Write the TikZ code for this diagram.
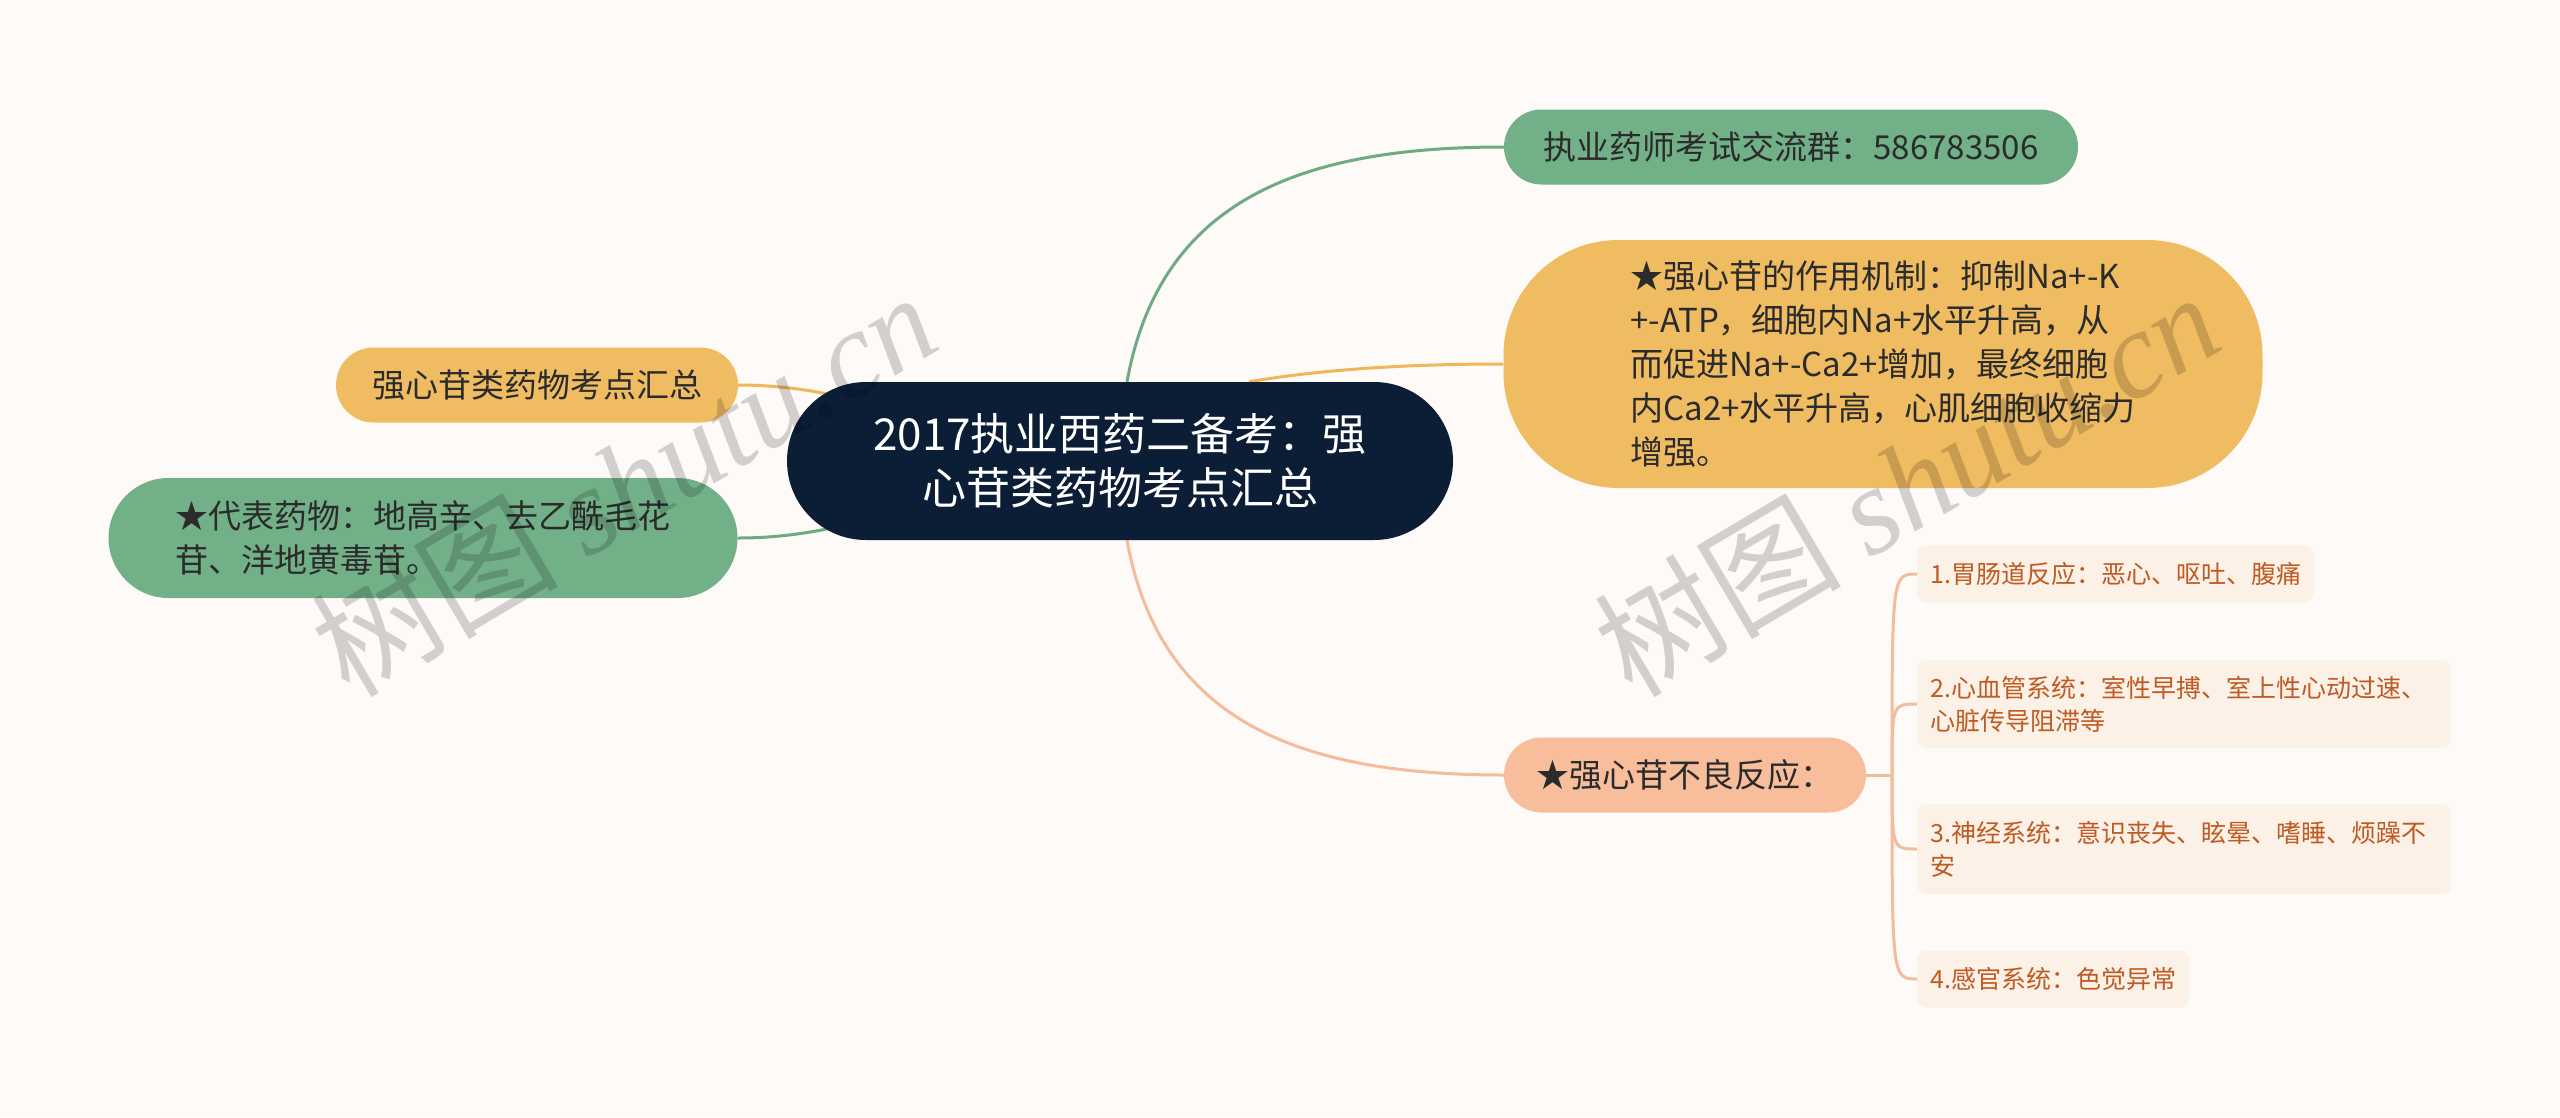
\documentclass[tikz,border=0pt]{standalone}
\usepackage{fontspec}
\setmainfont{Noto Sans CJK SC}
\newfontfamily\wmserif{Liberation Serif}
\usetikzlibrary{calc}
\pgfdeclarelayer{bgfill}
\pgfdeclarelayer{background}
\pgfsetlayers{bgfill,background,main}
\definecolor{bgc}{HTML}{FDFAF8}
\definecolor{rootc}{HTML}{0C1D36}
\definecolor{greenc}{HTML}{72B088}
\definecolor{greenl}{HTML}{6EAA83}
\definecolor{orangec}{HTML}{F0BC62}
\definecolor{orangel}{HTML}{EFB75A}
\definecolor{salmonc}{HTML}{F8BE9C}
\definecolor{salmonl}{HTML}{F3BC9A}
\definecolor{subfill}{HTML}{FCF1E7}
\definecolor{subtext}{HTML}{BF5A22}
\definecolor{darktext}{HTML}{2B2B2B}
\tikzset{
  rootnode/.style={fill=rootc, text=white, font=\fontsize{44}{54}\selectfont, align=center,
    minimum width=666pt, minimum height=158pt, rounded corners=79pt, inner sep=0pt},
  mainnode/.style={text=darktext, font=\fontsize{33}{44}\selectfont, align=left, inner sep=0pt},
  subnode/.style={fill=subfill, text=subtext, font=\fontsize{25}{33}\selectfont, align=left,
    anchor=west, inner xsep=13pt, inner ysep=0pt, rounded corners=9pt},
  conn/.style={line width=3pt},
  wm/.style={text=black, opacity=0.17, rotate=30.6, anchor=base west, inner sep=0pt}
}
\begin{document}
\begin{tikzpicture}[x=1pt,y=-1pt]
\begin{pgfonlayer}{bgfill}
\fill[bgc] (0,0) rectangle (2560,1117);
\end{pgfonlayer}
\useasboundingbox (0,0) rectangle (2560,1117);

% nodes
\node[rootnode] (root) at (1120,461) {2017执业西药二备考：强\\心苷类药物考点汇总};
\node[mainnode, fill=greenc, minimum width=574pt, minimum height=75pt, rounded corners=37.5pt, align=center]
  (qq) at (1791,147) {执业药师考试交流群：586783506};
\node[mainnode, fill=orangec, minimum width=759pt, minimum height=248pt, rounded corners=115pt]
  (mech) at (1883,364) {★强心苷的作用机制：抑制Na+-K\\+-ATP，细胞内Na+水平升高，从\\而促进Na+-Ca2+增加，最终细胞\\内Ca2+水平升高，心肌细胞收缩力\\增强。};
\node[mainnode, fill=orangec, minimum width=402pt, minimum height=75pt, rounded corners=37.5pt, align=center]
  (sum) at (537,385) {强心苷类药物考点汇总};
\node[mainnode, fill=greenc, minimum width=629pt, minimum height=120pt, rounded corners=60pt]
  (rep) at (423,538) {★代表药物：地高辛、去乙酰毛花\\苷、洋地黄毒苷。};
\node[mainnode, fill=salmonc, minimum width=362pt, minimum height=75pt, rounded corners=37.5pt, align=center]
  (adv) at (1685,775) {★强心苷不良反应：};

\node[subnode, minimum height=57pt] (s1) at (1917,574) {1.胃肠道反应：恶心、呕吐、腹痛};
\node[subnode, minimum height=88pt, text width=508pt] (s2) at (1917,704) {2.心血管系统：室性早搏、室上性心动过速、\\心脏传导阻滞等};
\node[subnode, minimum height=90pt, text width=508pt] (s3) at (1917,849) {3.神经系统：意识丧失、眩晕、嗜睡、烦躁不\\安};
\node[subnode, minimum height=57pt] (s4) at (1917,979) {4.感官系统：色觉异常};

\coordinate (fork) at (1892,775);

% connectors
\begin{pgfonlayer}{background}
\draw[conn, greenl] ([xshift=7pt]root.north) .. controls (1160,200) and (1300,147) .. (qq.west);
\draw[conn, orangel] ([xshift=129pt]root.north) .. controls (1330,368) and (1420,364) .. (mech.west);
\draw[conn, salmonl] ([xshift=7pt]root.south) .. controls (1160,722) and (1300,775) .. (adv.west);
\draw[conn, orangel] (sum.east) to[out=0,in=180] (root.center);
\draw[conn, greenl] (rep.east) to[out=0,in=180] (root.center);
\draw[conn, salmonl] (adv.east) -- (fork);
\foreach \s in {s1,s2,s3,s4}{
  \draw[conn, salmonl] (fork) .. controls (fork |- \s.west) and (fork |- \s.west) .. (\s.west);
}
\end{pgfonlayer}

% watermarks
\node[wm] (wm1) at (349,700) {\fontsize{124}{124}\selectfont 树图 {\wmserif\itshape shutu.cn}};
\node[wm] (wm2) at (1632,700) {\fontsize{124}{124}\selectfont 树图 {\wmserif\itshape shutu.cn}};
\end{tikzpicture}
\end{document}
